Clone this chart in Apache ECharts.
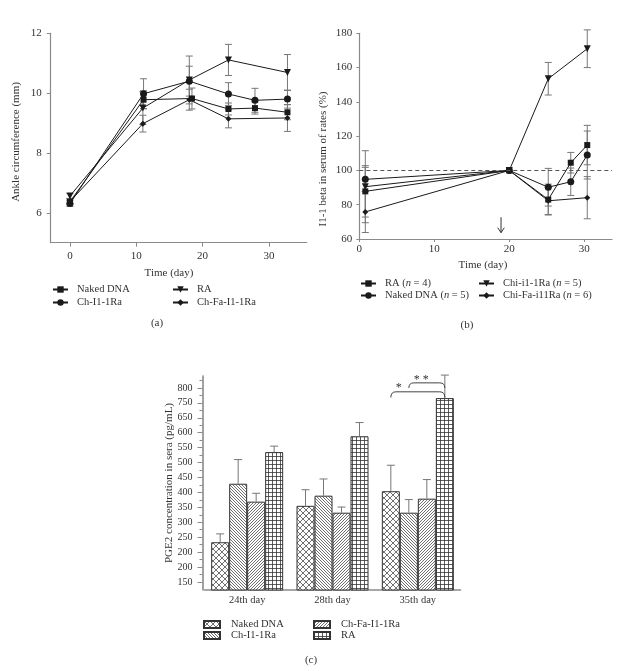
<!DOCTYPE html>
<html><head><meta charset="utf-8">
<script src="https://cdn.jsdelivr.net/npm/echarts@6/dist/echarts.min.js"></script>
<style>html,body{margin:0;padding:0;background:#fff;}
.c{position:absolute;left:0;top:0;width:635px;height:671px;}</style>
</head><body>
<div id="ca" class="c"></div><div id="cb" class="c"></div><div id="cc" class="c"></div>
<script>
// ---------- Panel (a) data ----------
const aXTicks = [0, 10, 20, 30];
const aYTicks = [6, 8, 10, 12];
const aNakedX = [0, 11.1, 18.4, 23.9, 27.9, 32.8];
const aNakedY = [6.37, 9.78, 9.82, 9.47, 9.50, 9.36];
const aNakedE = [0.1, 0.3, 0.35, 0.2, 0.2, 0.25];
const aRAX = [0, 11, 18, 23.9, 32.8];
const aRAY = [6.56, 9.50, 10.44, 11.11, 10.69];
const aRAE = [0.08, 0.55, 0.8, 0.52, 0.6];
const aChX = [0, 11.1, 18, 23.9, 27.9, 32.8];
const aChY = [6.31, 9.98, 10.40, 9.97, 9.76, 9.80];
const aChE = [0.1, 0.5, 0.5, 0.38, 0.4, 0.3];
const aFaX = [0, 11, 18, 23.9, 32.8];
const aFaY = [6.38, 8.98, 9.78, 9.14, 9.17];
const aFaE = [0.08, 0.28, 0.35, 0.3, 0.45];

// ---------- Panel (b) data ----------
const bXTicks = [0, 10, 20, 30];
const bYTicks = [60, 80, 100, 120, 140, 160, 180];
const bRAX = [0.8, 20, 25.2, 28.2, 30.4];
const bRAY = [87.8, 100, 83.0, 104.5, 114.8];
const bRAE = [15, 0, 9, 6, 11.5];
const bNakedX = [0.8, 20, 25.2, 28.2, 30.4];
const bNakedY = [94.8, 100, 90.2, 93.4, 109];
const bNakedE = [7, 0, 11, 8, 14];
const bChiX = [0.8, 20, 25.2, 30.4];
const bChiY = [90.5, 100, 153.5, 171];
const bChiE = [21, 0, 9.5, 11];
const bFaX = [0.8, 20, 25.2, 30.4];
const bFaY = [75.8, 100, 82.3, 84.1];
const bFaE = [12, 0, 8, 12.3];
const bRefLine = 100;
const bArrow = [18.9, 72.7, 63.7];

// ---------- Panel (c) data ----------
const cCats = ['24th day', '28th day', '35th day'];
const cTickVals = [150, 200, 250, 300, 350, 400, 450, 500, 550, 600, 650, 700, 750, 800];
const cTickLabels = ['150', '200', '200', '250', '300', '350', '400', '450', '500', '550', '600', '650', '750', '800'];
const cMinorVals = [175, 225, 275, 325, 375, 425, 475, 525, 575, 625, 675, 725, 775, 825];
const cNaked = [283, 405, 454];
const cNakedE = [28, 54, 87];
const cCh = [479, 439, 382];
const cChE = [81, 56, 44];
const cFa = [419, 382, 429];
const cFaE = [28, 19, 64];
const cRA = [585, 638, 766];
const cRAE = [20, 46, 77];
// significance: [category, fromBar, toBar, topValue, tipValue, starValue]
const cSig = [[2, 0, 3, 787, 768, 813], [2, 1, 3, 817, 800, 840]];
const cSigText = ['*', '* *'];

// ---------- style ----------
const FONT = '"Liberation Serif", "DejaVu Serif", serif';
const TXT = '#333';
const AX = '#8a8a8a';
const LINE = '#1a1a1a';
const ERR = '#777';

function txt(x, y, text, size, rot) {
  return { type: 'text', x: x, y: y, rotation: rot || 0,
    style: { text: text, x: 0, y: 0, align: 'center', verticalAlign: 'middle',
      font: size + 'px ' + FONT, fill: TXT } };
}
function pairs(xs, ys) { return xs.map((x, i) => [x, ys[i]]); }
function errBars(xs, ys, es, cap) {
  return { type: 'custom', data: xs.map((x, i) => [x, ys[i], es[i]]), silent: true, z: 1, clip: false,
    encode: { x: 0, y: 1 },
    renderItem: function (p, api) {
      const x = api.value(0), y = api.value(1), e = api.value(2);
      if (!e) return null;
      const t = api.coord([x, y + e]), b = api.coord([x, y - e]), h = cap / 2;
      const st = { stroke: ERR, lineWidth: 1 };
      return { type: 'group', children: [
        { type: 'line', shape: { x1: t[0], y1: t[1], x2: b[0], y2: b[1] }, style: st },
        { type: 'line', shape: { x1: t[0] - h, y1: t[1], x2: t[0] + h, y2: t[1] }, style: st },
        { type: 'line', shape: { x1: b[0] - h, y1: b[1], x2: b[0] + h, y2: b[1] }, style: st }] };
    } };
}
function lineSeries(name, xs, ys, sym, size, rot) {
  return { type: 'line', name: name, data: pairs(xs, ys), symbol: sym, symbolSize: size, symbolRotate: rot || 0,
    lineStyle: { color: LINE, width: 1 }, itemStyle: { color: LINE }, z: 3, animation: false };
}
function lg(name, left, top, extra) {
  return Object.assign({ data: [name], left: left, top: top, padding: 0, itemWidth: 15, itemHeight: 8,
    selectedMode: false, textStyle: { fontFamily: FONT, fontSize: 10.5, color: TXT, padding: [0, 0, 0, 4] } }, extra || {});
}
function valAxis(min, max, ticks, tickLen, margin) {
  return { type: 'value', min: min, max: max,
    axisLine: { show: true, onZero: false, lineStyle: { color: AX, width: 1.2 } },
    axisTick: { show: true, length: tickLen, customValues: ticks, lineStyle: { color: AX } },
    axisLabel: { customValues: ticks, fontFamily: FONT, fontSize: 11, color: TXT, margin: margin },
    splitLine: { show: false } };
}

// ---------- Chart (a) ----------
const ca = echarts.init(document.getElementById('ca'));
ca.setOption({
  animation: false,
  grid: { left: 50.7, top: 33.3, width: 256, height: 209.4 },
  xAxis: valAxis(-2.9, 35.7, aXTicks, 4, 8),
  yAxis: valAxis(5, 12, aYTicks, 4, 9),
  legend: [lg('Naked DNA', 52, 284), lg('Ch-I1-1Ra', 52, 297), lg('RA', 172, 284), lg('Ch-Fa-I1-1Ra', 172, 297)],
  graphic: [txt(169, 273, 'Time (day)', 11), txt(16, 142, 'Ankle circumference (mm)', 11, Math.PI / 2), txt(157, 323, '(a)', 11)],
  series: [
    errBars(aNakedX, aNakedY, aNakedE, 7), errBars(aRAX, aRAY, aRAE, 7),
    errBars(aChX, aChY, aChE, 7), errBars(aFaX, aFaY, aFaE, 7),
    lineSeries('Naked DNA', aNakedX, aNakedY, 'rect', 6),
    lineSeries('RA', aRAX, aRAY, 'triangle', 7, 180),
    lineSeries('Ch-I1-1Ra', aChX, aChY, 'circle', 7),
    lineSeries('Ch-Fa-I1-1Ra', aFaX, aFaY, 'diamond', 6)
  ]
});

// ---------- Chart (b) ----------
const cb = echarts.init(document.getElementById('cb'));
const nFmt = function (name) { return name.replace(/\(n = (\d)\)/, '({i|n} = $1)'); };
const nRich = { i: { fontFamily: FONT, fontSize: 10.5, fontStyle: 'italic', color: TXT } };
function lgb(name, left, top) {
  const o = lg(name, left, top);
  o.formatter = nFmt; o.textStyle.rich = nRich;
  return o;
}
cb.setOption({
  animation: false,
  grid: { left: 359.3, top: 33.3, width: 252.7, height: 205.7 },
  xAxis: valAxis(0, 33.7, bXTicks, 3, 5),
  yAxis: valAxis(60, 180, bYTicks, 3, 7),
  legend: [lgb('RA (n = 4)', 360, 278), lgb('Naked DNA (n = 5)', 360, 290),
    lgb('Chi-i1-1Ra (n = 5)', 478, 278), lgb('Chi-Fa-i11Ra (n = 6)', 478, 290)],
  graphic: [txt(483, 265, 'Time (day)', 11), txt(323, 159, 'I1-1 beta in serum of rates (%)', 11, Math.PI / 2), txt(467, 325, '(b)', 11)],
  series: [
    errBars(bRAX, bRAY, bRAE, 7), errBars(bNakedX, bNakedY, bNakedE, 7),
    errBars(bChiX, bChiY, bChiE, 7), errBars(bFaX, bFaY, bFaE, 7),
    Object.assign(lineSeries('RA (n = 4)', bRAX, bRAY, 'rect', 6), {
      markLine: { silent: true, symbol: 'none', label: { show: false },
        lineStyle: { color: '#555', type: [4, 3], width: 1 }, data: [{ yAxis: bRefLine }] } }),
    lineSeries('Naked DNA (n = 5)', bNakedX, bNakedY, 'circle', 7),
    lineSeries('Chi-i1-1Ra (n = 5)', bChiX, bChiY, 'triangle', 7, 180),
    lineSeries('Chi-Fa-i11Ra (n = 6)', bFaX, bFaY, 'diamond', 6),
    { type: 'custom', data: [bArrow], silent: true, clip: false, encode: { x: 0, y: 1 },
      renderItem: function (p, api) {
        const a = api.coord([api.value(0), api.value(1)]), b = api.coord([api.value(0), api.value(2)]);
        const st = { stroke: '#333', lineWidth: 1, fill: null };
        return { type: 'group', children: [
          { type: 'line', shape: { x1: a[0], y1: a[1], x2: b[0], y2: b[1] }, style: st },
          { type: 'polyline', shape: { points: [[b[0] - 3.3, b[1] - 5], [b[0], b[1]], [b[0] + 3.3, b[1] - 5]] }, style: st }] };
      } }
  ]
});

// ---------- Chart (c) ----------
function pattern(kind) {
  const s = kind === 'cross' ? 6 : (kind === 'grid' ? 4 : 3);
  const cv = document.createElement('canvas'); cv.width = s; cv.height = s;
  const g = cv.getContext('2d');
  g.fillStyle = '#fff'; g.fillRect(0, 0, s, s);
  g.strokeStyle = '#333'; g.lineWidth = kind === 'grid' ? 0.8 : 0.7;
  g.beginPath();
  if (kind === 'grid') {
    g.moveTo(0, 0.5); g.lineTo(s, 0.5); g.moveTo(0.5, 0); g.lineTo(0.5, s);
  } else {
    const back = function () { g.moveTo(-1, -1); g.lineTo(s + 1, s + 1); g.moveTo(-1, s - 1); g.lineTo(1, s + 1); g.moveTo(s - 1, -1); g.lineTo(s + 1, 1); };
    const fwd = function () { g.moveTo(-1, s + 1); g.lineTo(s + 1, -1); g.moveTo(-1, 1); g.lineTo(1, -1); g.moveTo(s - 1, s + 1); g.lineTo(s + 1, s - 1); };
    if (kind === 'cross') { back(); fwd(); }
    else if (kind === 'back') back();
    else fwd();
  }
  g.stroke();
  return { image: cv, repeat: 'repeat' };
}
const C_BAR_W = 18;
function barSeries(name, vals, kind) {
  return { type: 'bar', name: name, data: vals, barWidth: C_BAR_W, barGap: '0%',
    itemStyle: { color: pattern(kind), borderColor: '#333', borderWidth: 1 }, z: 2 };
}
function cErr(vals, errs, bi) {
  return { type: 'custom', data: vals.map((v, i) => [i, v, errs[i]]), silent: true, z: 3, clip: false,
    encode: { x: 0, y: 1 },
    renderItem: function (p, api) {
      const c = api.value(0), v = api.value(1), e = api.value(2);
      const b = api.coord([c, v]), t = api.coord([c, v + e]);
      const x = b[0] + (bi - 1.5) * C_BAR_W;
      const st = { stroke: ERR, lineWidth: 1 };
      return { type: 'group', children: [
        { type: 'line', shape: { x1: x, y1: b[1], x2: x, y2: t[1] }, style: st },
        { type: 'line', shape: { x1: x - 4, y1: t[1], x2: x + 4, y2: t[1] }, style: st }] };
    } };
}
const cc = echarts.init(document.getElementById('cc'));
function lgc(name, left, top) {
  const o = lg(name, left, top); o.itemWidth = 16; o.itemHeight = 7; o.icon = 'rect'; o.textStyle.padding = [0, 0, 0, 6];
  return o;
}
cc.setOption({
  animation: false,
  grid: { left: 204.5, top: 376, width: 256, height: 214 },
  xAxis: { type: 'category', data: cCats,
    axisLine: { show: true, lineStyle: { color: AX, width: 1.6 } }, axisTick: { show: false },
    axisLabel: { fontFamily: FONT, fontSize: 10.5, color: TXT, margin: 5 } },
  yAxis: [
    { type: 'value', min: 123, max: 840, offset: 2,
      axisLine: { show: true, onZero: false, lineStyle: { color: AX, width: 1.6 } },
      axisTick: { show: true, length: 5, customValues: cTickVals, lineStyle: { color: AX } },
      axisLabel: { customValues: cTickVals, formatter: function (v) { return cTickLabels[cTickVals.indexOf(v)]; },
        fontFamily: FONT, fontSize: 10, color: TXT, margin: 10 },
      splitLine: { show: false } },
    { type: 'value', min: 123, max: 840, offset: 2, position: 'left',
      axisLine: { show: false },
      axisTick: { show: true, length: 3, customValues: cMinorVals, lineStyle: { color: AX } },
      axisLabel: { show: false }, splitLine: { show: false } }
  ],
  legend: [lgc('Naked DNA', 203, 619), lgc('Ch-I1-1Ra', 203, 630), lgc('Ch-Fa-I1-1Ra', 313, 619), lgc('RA', 313, 630)],
  graphic: [txt(169, 483, 'PGE2 concentration in sera (pg/mL)', 11, Math.PI / 2), txt(311, 660, '(c)', 11)],
  series: [
    barSeries('Naked DNA', cNaked, 'cross'),
    barSeries('Ch-I1-1Ra', cCh, 'back'),
    barSeries('Ch-Fa-I1-1Ra', cFa, 'fwd'),
    barSeries('RA', cRA, 'grid'),
    cErr(cNaked, cNakedE, 0), cErr(cCh, cChE, 1), cErr(cFa, cFaE, 2), cErr(cRA, cRAE, 3),
    { type: 'custom', data: cSig, silent: true, clip: false, z: 4, encode: { x: 0, y: 3 },
      renderItem: function (p, api) {
        const i = p.dataIndex;
        const cat = api.value(0), f = api.value(1), t = api.value(2);
        const top = api.coord([cat, api.value(3)]), tip = api.coord([cat, api.value(4)]), star = api.coord([cat, api.value(5)]);
        const x1 = top[0] + (f - 1.5) * C_BAR_W, x2 = top[0] + (t - 1.5) * C_BAR_W;
        const yT = top[1], yP = tip[1];
        const r = 5;
        return { type: 'group', children: [
          { type: 'path', shape: { pathData: 'M' + x1 + ' ' + yP + ' Q' + x1 + ' ' + yT + ' ' + (x1 + r) + ' ' + yT +
              ' L' + (x2 - r) + ' ' + yT + ' Q' + x2 + ' ' + yT + ' ' + x2 + ' ' + yP },
            style: { stroke: '#444', lineWidth: 1, fill: null } },
          { type: 'text', x: x1 + 5, y: star[1] + 4, style: { text: cSigText[i], x: 0, y: 0, align: 'left', verticalAlign: 'middle',
              font: '12px ' + FONT, fill: TXT } }] };
      } }
  ]
});
</script>
</body></html>
